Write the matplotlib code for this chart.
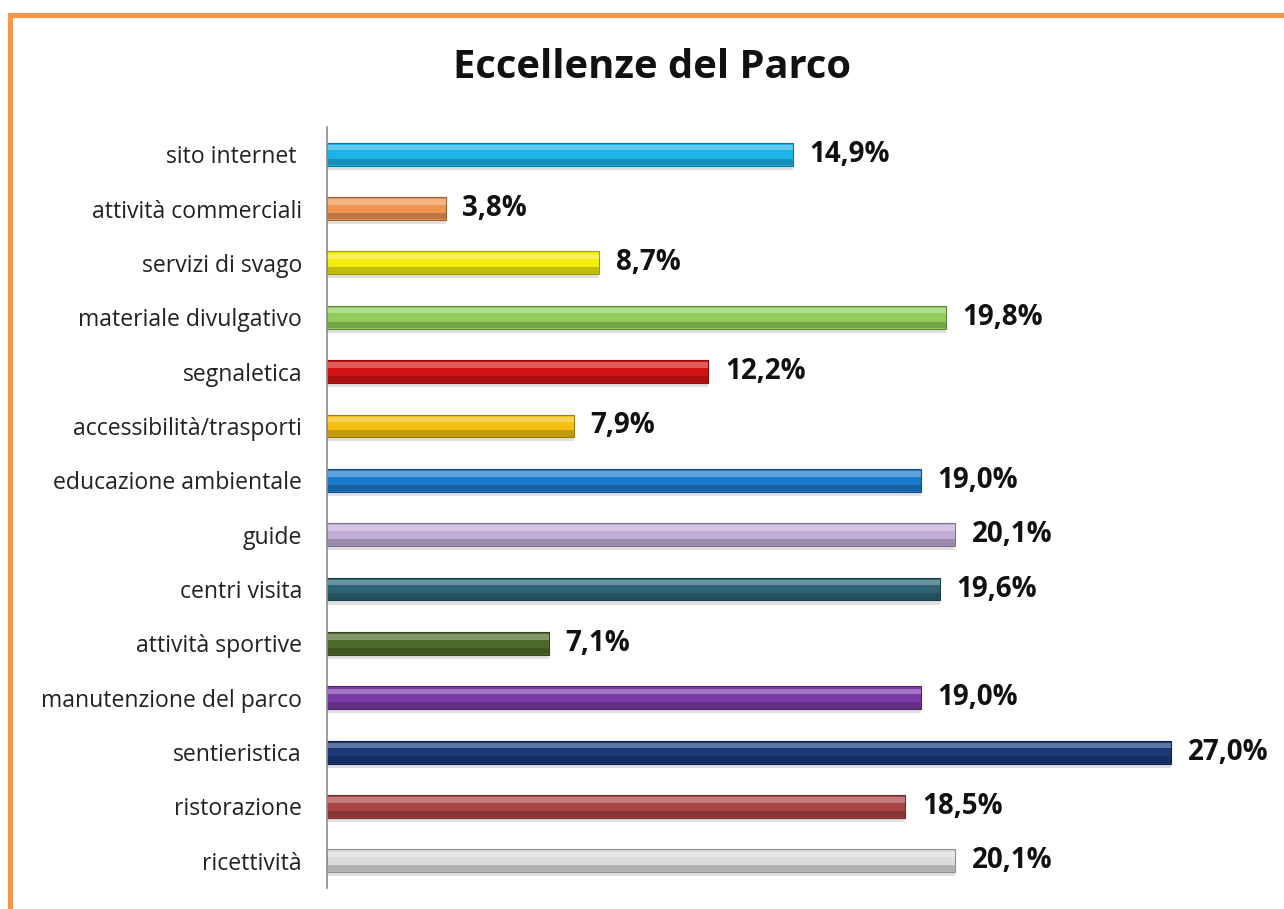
import matplotlib.pyplot as plt
import matplotlib.colors as mcolors
from matplotlib.patches import Rectangle
import numpy as np

plt.rcParams['font.family'] = ['Open Sans', 'DejaVu Sans']

categories = ["sito internet ", "attività commerciali", "servizi di svago",
              "materiale divulgativo", "segnaletica", "accessibilità/trasporti",
              "educazione ambientale", "guide", "centri visita", "attività sportive",
              "manutenzione del parco", "sentieristica", "ristorazione", "ricettività"]
values = [14.9, 3.8, 8.7, 19.8, 12.2, 7.9, 19.0, 20.1, 19.6, 7.1, 19.0, 27.0, 18.5, 20.1]
labels = ["14,9%", "3,8%", "8,7%", "19,8%", "12,2%", "7,9%", "19,0%",
          "20,1%", "19,6%", "7,1%", "19,0%", "27,0%", "18,5%", "20,1%"]
colors = ["#1CB4E6", "#EE9550", "#F2EC10", "#92CC5C", "#D41414", "#F4C010",
          "#1A7ACC", "#C2AED6", "#2C6474", "#4E6A2A", "#7A3AA8", "#1A3878",
          "#A84444", "#DCDCDC"]

def shade(c, f):
    r = np.array(mcolors.to_rgb(c))
    if f > 0:
        r = r + (1 - r) * f
    else:
        r = r * (1 + f)
    return tuple(np.clip(r, 0, 1))

fig = plt.figure(figsize=(12.84, 9.09), dpi=100)
ax = fig.add_axes([327/1284, 1 - 888/909, (1265 - 327)/1284, (888 - 127)/909])

y = np.arange(len(categories))
# shadow under each bar
ax.barh(y + 0.25, values, height=0.07, color="#000000", alpha=0.12, linewidth=0)
# main body
ax.barh(y, values, height=0.42, color=colors,
        edgecolor=[shade(c, -0.35) for c in colors], linewidth=0.8)
# top highlight
ax.barh(y - 0.12, values, height=0.1, color=[shade(c, 0.3) for c in colors], linewidth=0)
# bottom shade
ax.barh(y + 0.14, values, height=0.12, color=[shade(c, -0.2) for c in colors], linewidth=0)

for yi, v, t in zip(y, values, labels):
    ax.annotate(t, (v, yi), xytext=(12, 0), textcoords="offset points",
                ha="left", va="center", fontsize=20, fontweight="bold", color="#111111")

ax.set_yticks(y)
ax.set_yticklabels(categories, fontsize=16.6, color="#222222")
ax.tick_params(axis="y", length=0, pad=18)
ax.set_xticks([])
ax.set_xlim(0, 30)
ax.set_ylim(len(categories) - 0.5, -0.5)
for s in ["top", "right", "bottom"]:
    ax.spines[s].set_visible(False)
ax.spines["left"].set_color("#8C8C8C")
ax.spines["left"].set_linewidth(1.2)

fig.text(652/1284, 1 - 68/909, "Eccellenze del Parco", ha="center", va="center",
         fontsize=28.7, fontweight="bold", color="#111111")

border = Rectangle((10/1284, -0.05), 1.1, 1 - 14.5/909 + 0.05, transform=fig.transFigure,
                   fill=False, edgecolor="#F79646", linewidth=3.6)
fig.patches.append(border)

fig.savefig("out.png", dpi=100)
